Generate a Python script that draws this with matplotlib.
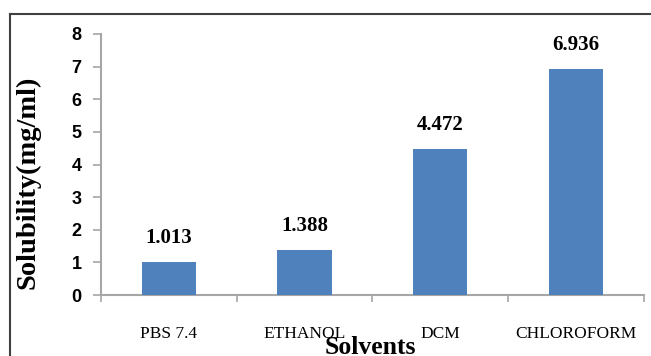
import matplotlib
matplotlib.use("Agg")
import matplotlib.pyplot as plt
from matplotlib.lines import Line2D

solvents = ["PBS 7.4", "ETHANOL", "DCM", "CHLOROFORM"]
solubility = [1.013, 1.388, 4.472, 6.936]
y_ticks = [0, 1, 2, 3, 4, 5, 6, 7, 8]

bar_color = "#4F81BD"
axis_grey = "#A6A6A6"

fig = plt.figure(figsize=(6.51, 3.56), dpi=100)
ax = fig.add_axes([0.155, 0.1713, 0.834, 0.7332])

x = list(range(len(solvents)))
bars = ax.bar(x, solubility, width=0.4, color=bar_color, zorder=3)
ax.bar_label(bars, labels=["%.3f" % v for v in solubility], padding=10,
             fontsize=15, fontweight="bold", family="Liberation Serif")

ax.set_xlim(-0.5, len(solvents) - 0.5)
ax.set_ylim(0, 8)
ax.set_yticks(y_ticks)
ax.set_yticklabels([str(t) for t in y_ticks], fontsize=13, fontweight="bold",
                   family="Liberation Sans")

# category labels sit between the boundary ticks
ax.set_xticks(x)
ax.set_xticklabels(solvents, fontsize=12.5, family="Liberation Serif")
ax.set_xticks([i - 0.5 for i in range(len(solvents) + 1)], minor=True)
ax.tick_params(axis="x", which="major", length=0, pad=22)
ax.tick_params(axis="x", which="minor", length=5, width=1.2, color=axis_grey, direction="out")
ax.tick_params(axis="y", length=6, width=1.2, color=axis_grey, pad=8, direction="out")

for side in ["top", "right"]:
    ax.spines[side].set_visible(False)
for side in ["left", "bottom"]:
    ax.spines[side].set_color(axis_grey)
    ax.spines[side].set_linewidth(1.5)

ax.set_xlabel("Solvents", fontsize=18.5, fontweight="bold", family="Liberation Serif")
ax.xaxis.set_label_coords(0.497, -0.158)
ax.set_ylabel("Solubility(mg/ml)", fontsize=20.5, fontweight="bold", family="Liberation Serif")
ax.yaxis.label.set_va("center")
ax.yaxis.set_label_coords(-0.134, 0.433)

# frame around the chart area (open at right and bottom)
fig.add_artist(Line2D([10 / 651, 1.0], [1 - 14 / 356, 1 - 14 / 356],
                      transform=fig.transFigure, color="#404040", lw=1.5))
fig.add_artist(Line2D([10 / 651, 10 / 651], [0.0, 1 - 14 / 356],
                      transform=fig.transFigure, color="#404040", lw=1.5))

fig.savefig("out.png", dpi=100)
